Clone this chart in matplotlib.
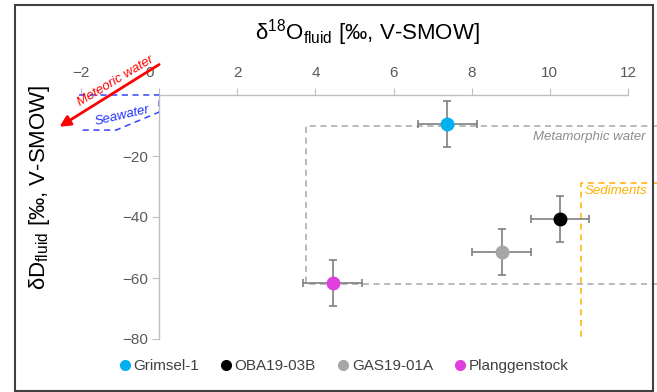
import matplotlib
matplotlib.use("Agg")
import matplotlib.pyplot as plt
from matplotlib.lines import Line2D
from matplotlib.patches import Rectangle
from matplotlib.transforms import ScaledTranslation

plt.rcParams["font.family"] = ["Liberation Sans", "DejaVu Sans"]
plt.rcParams["mathtext.fontset"] = "custom"
plt.rcParams["mathtext.rm"] = "Liberation Sans"
plt.rcParams["mathtext.it"] = "Liberation Sans:italic"

# samples
names = ["Grimsel-1", "OBA19-03B", "GAS19-01A", "Planggenstock"]
d18o = [7.38, 10.26, 8.77, 4.44]
dD = [-9.5, -40.7, -51.5, -61.6]
d18o_err = [0.75, 0.75, 0.75, 0.75]
dD_err = [7.5, 7.5, 7.5, 7.5]
colors = ["#00B0F0", "#000000", "#A6A6A6", "#E03FE0"]

# reference fields
meta_x = [12.8, 3.75, 3.75, 12.8]
meta_y = [-10, -10, -62, -62]
sed_x = [12.8, 10.8, 10.8]
sed_y = [-29, -29, -80]
sea_x = [-2.05, 0, 0, -1.1, -2.05]
sea_y = [0, 0, -5.6, -11.5, -11.5]
mwl_start = (0, 10)
mwl_end = (-2.55, -10.4)

xticks = [-2, 0, 2, 4, 6, 8, 10, 12]
yticks = [-80, -60, -40, -20]

fig = plt.figure(figsize=(6.57, 3.92), dpi=100)
ax = fig.add_axes([81/657, 1-339/392, (628-81)/657, (339-95)/392])
ax.set_xlim(-2, 12)
ax.set_ylim(-80, 0)

axc = "#BFBFBF"
txc = "#595959"
for s in ["right", "bottom"]:
    ax.spines[s].set_visible(False)
ax.spines["left"].set_position(("data", 0))
ax.spines["top"].set_bounds(0, 12)
for s in ["left", "top"]:
    ax.spines[s].set_color(axc)
    ax.spines[s].set_linewidth(1.0)
ax.xaxis.set_ticks_position("top")
ax.set_xticks(xticks)
ax.set_yticks(yticks)
ax.tick_params(axis="both", direction="out", length=5, color=axc,
               labelcolor=txc, labelsize=11, pad=3)
ax.tick_params(axis="x", pad=6)
# Excel nudges the 0 label left of the axis
t0 = ax.xaxis.get_major_ticks()[1].label2
t0.set_transform(t0.get_transform() + ScaledTranslation(-10/100, 0, fig.dpi_scale_trans))

ax.plot(meta_x, meta_y, ls=(0, (4, 3)), color="#A6A6A6", lw=1.1, clip_on=False)
ax.plot(sed_x, sed_y, ls=(0, (4, 3)), color="#FFB000", lw=1.1, clip_on=False)
ax.plot(sea_x, sea_y, ls=(0, (4, 3)), color="#3344FF", lw=1.1, clip_on=False)

ax.text(12.45, -13.8, "Metamorphic water", color="#8C8C8C", style="italic",
        fontsize=9.5, ha="right", va="center")
ax.text(10.9, -31.5, "Sediments", color="#FFB000", style="italic",
        fontsize=9.5, ha="left", va="center")
ax.text(-0.95, -6.8, "Seawater", color="#2233FF", style="italic",
        fontsize=9.5, ha="center", va="center", rotation=13)
ax.annotate("", xy=mwl_end, xytext=mwl_start, annotation_clip=False,
            arrowprops=dict(arrowstyle="-|>", color="red", lw=2,
                            mutation_scale=16, shrinkA=0, shrinkB=0))
ax.text(-1.12, 4.6, "Meteoric water", color="red", style="italic",
        fontsize=9.5, ha="center", va="center", rotation=31, clip_on=False)

for x, y, xe, ye, c in zip(d18o, dD, d18o_err, dD_err, colors):
    ax.errorbar(x, y, xerr=xe, yerr=ye, fmt="none", ecolor="#7F7F7F",
                elinewidth=1.2, capsize=3, capthick=1.2, zorder=3)
    ax.plot(x, y, "o", color=c, ms=9, mec=c, zorder=4)

ax.set_xlabel(r"δ$^{18}$O$_{\mathrm{fluid}}$ [‰, V-SMOW]", fontsize=16)
ax.xaxis.set_label_coords((367-81)/(628-81), 1+(95-33)/(339-95))
ax.xaxis.label.set_va("center")
ax.set_ylabel(r"δD$_{\mathrm{fluid}}$ [‰, V-SMOW]", fontsize=16)
ax.yaxis.set_label_coords((40-81)/(628-81), (339-187)/(339-95))
ax.yaxis.label.set_va("center")

handles = [Line2D([], [], ls="none", marker="o", color=c, ms=7) for c in colors]
fig.legend(handles, names, loc="center left", bbox_to_anchor=(107/657, 1-366/392),
           ncol=4, frameon=False, fontsize=11, handletextpad=0.1,
           columnspacing=1.35, handlelength=0.9, labelcolor="#404040",
           borderpad=0.2)

fig.patches.append(Rectangle((15/657, 1/392), 638/657, 386/392, fill=False,
                             edgecolor="#404040", lw=1.5, transform=fig.transFigure))

fig.savefig("out.png", dpi=100)
